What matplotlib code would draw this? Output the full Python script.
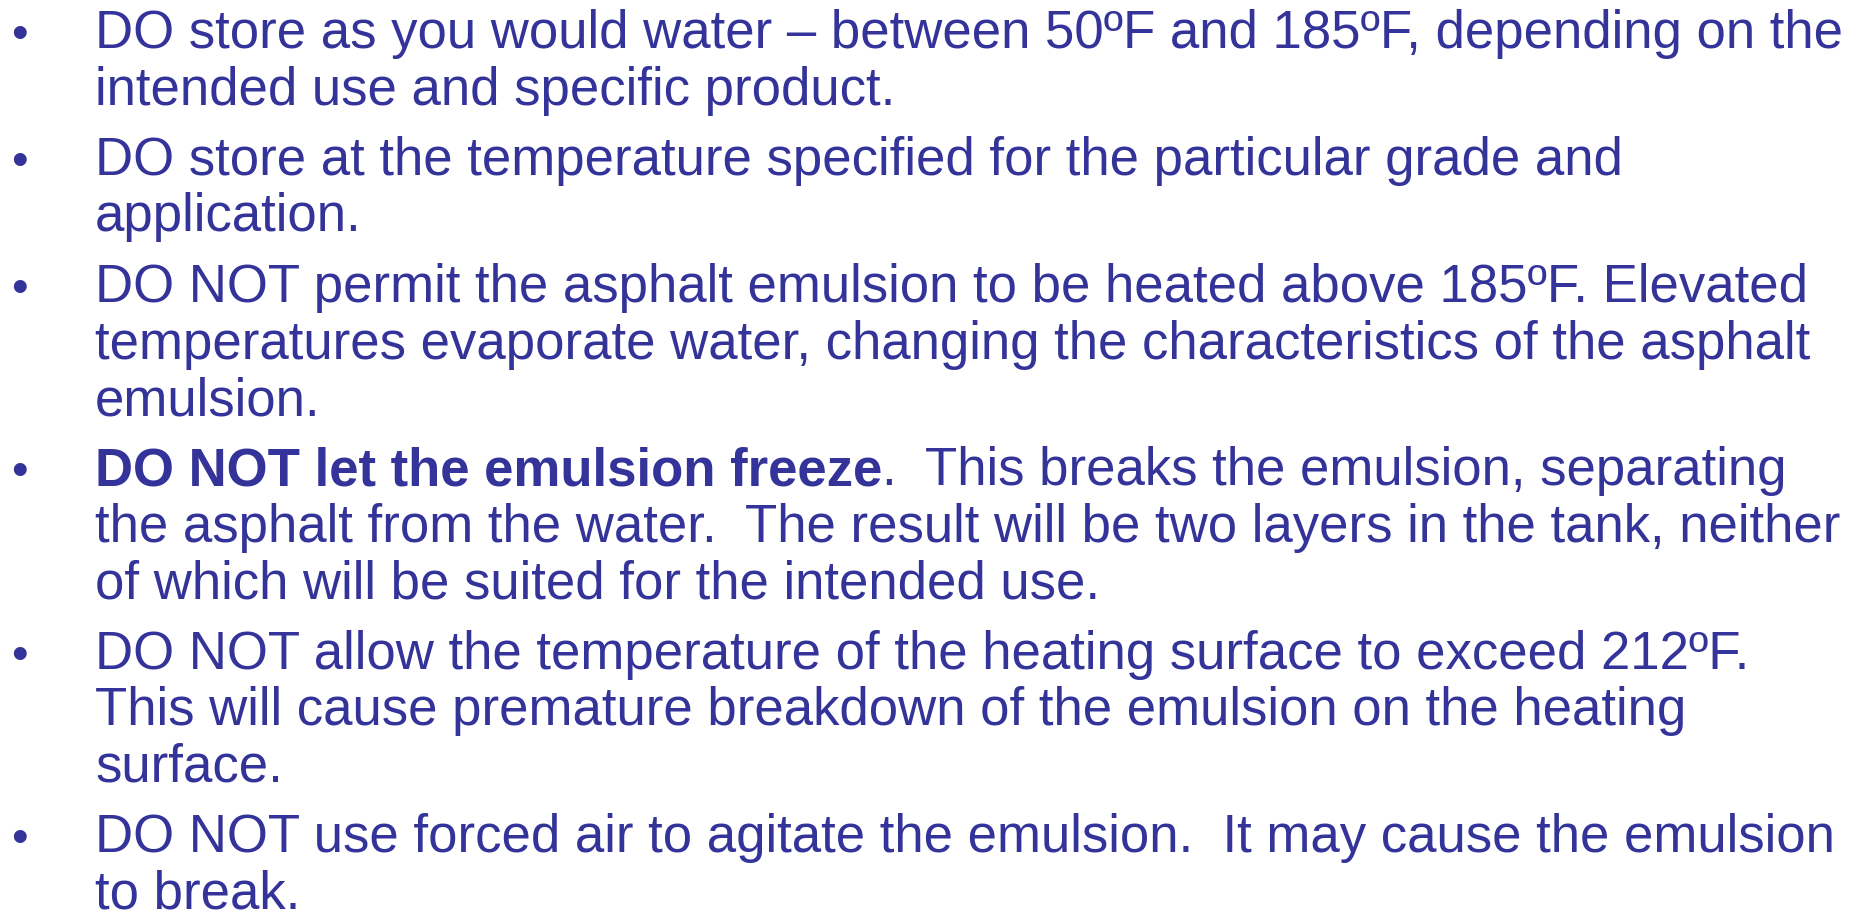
import matplotlib.pyplot as plt

W, H = 1863, 912
COLOR = "#333399"
FONT = "Liberation Sans"
SIZE = 38

# each bullet is a list of lines; bold prefix only on the 4th bullet
bullets = [
    ["DO store as you would water – between 50ºF and 185ºF, depending on the",
     "intended use and specific product."],
    ["DO store at the temperature specified for the particular grade and",
     "application."],
    ["DO NOT permit the asphalt emulsion to be heated above 185ºF. Elevated",
     "temperatures evaporate water, changing the characteristics of the asphalt",
     "emulsion."],
    [".  This breaks the emulsion, separating",
     "the asphalt from the water.  The result will be two layers in the tank, neither",
     "of which will be suited for the intended use."],
    ["DO NOT allow the temperature of the heating surface to exceed 212ºF.",
     "This will cause premature breakdown of the emulsion on the heating",
     "surface."],
    ["DO NOT use forced air to agitate the emulsion.  It may cause the emulsion",
     "to break."],
]
bold_prefix = {3: "DO NOT let the emulsion freeze"}

fig = plt.figure(figsize=(W / 100, H / 100), dpi=100)
fig.patch.set_facecolor("white")
renderer = fig.canvas.get_renderer()


def px(x, y):
    return x / W, 1 - y / H


x_text, x_bullet = 95, 11
first_base, line_gap, bullet_gap = 48, 56.5, 14

n = 0
for i, lines in enumerate(bullets):
    for j, line in enumerate(lines):
        y = first_base + line_gap * n + bullet_gap * i
        n += 1
        if j == 0:
            fig.text(*px(x_bullet, y), "•", color=COLOR, fontsize=SIZE * 0.9,
                     family=FONT, va="baseline")
        x = x_text
        if j == 0 and i in bold_prefix:
            t = fig.text(*px(x, y), bold_prefix[i], color=COLOR, fontsize=SIZE,
                         family=FONT, weight="bold", va="baseline")
            x = x + t.get_window_extent(renderer).width
        fig.text(*px(x, y), line, color=COLOR, fontsize=SIZE, family=FONT,
                 va="baseline")

fig.savefig("out.png", dpi=100, facecolor="white")
